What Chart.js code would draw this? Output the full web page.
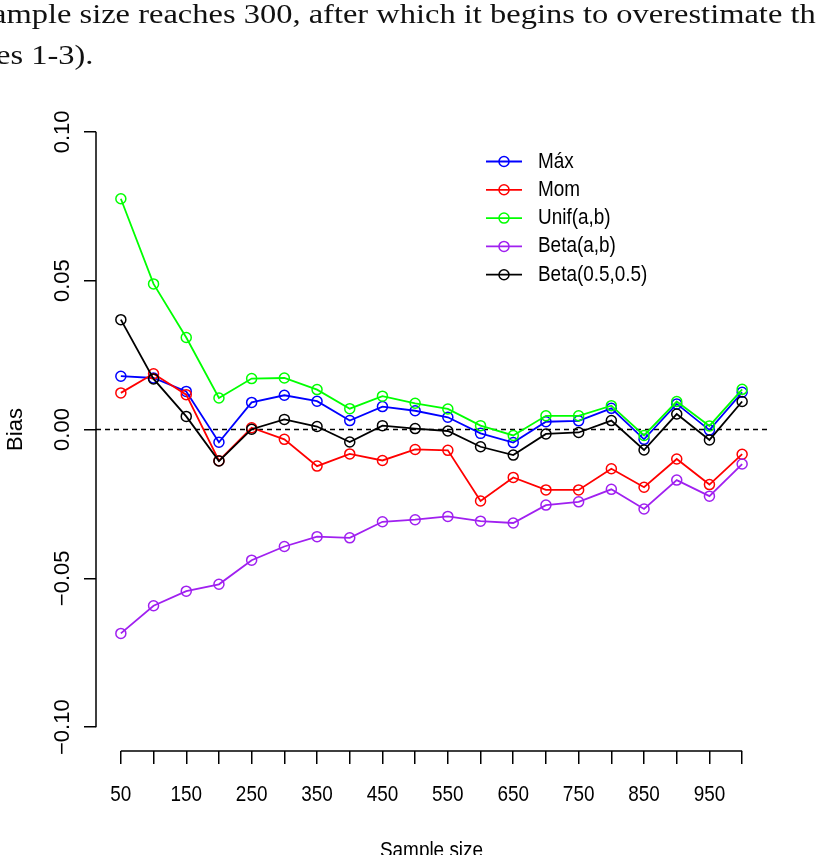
<!DOCTYPE html>
<html>
<head>
<meta charset="utf-8">
<script src="https://cdn.jsdelivr.net/npm/chart.js@4.4.1/dist/chart.umd.min.js"></script>
<style>
html,body{margin:0;padding:0;background:#fff;}
#wrap{position:relative;width:816px;height:855px;overflow:hidden;}
#c{position:absolute;left:0;top:0;}
.paper{position:absolute;white-space:nowrap;font-family:'Liberation Serif','DejaVu Serif',serif;font-size:28px;line-height:28px;color:#111;transform-origin:0 0;}
</style>
</head>
<body>
<div id="wrap">
<canvas id="c" width="816" height="855"></canvas>
<div class="paper" id="p1"></div>
<div class="paper" id="p2"></div>
</div>
<script>
// ---- data ----
const sampleSizes = [50,100,150,200,250,300,350,400,450,500,550,600,650,700,750,800,850,900,950,1000];
const seriesLabels = ['Máx','Mom','Unif(a,b)','Beta(a,b)','Beta(0.5,0.5)'];
const seriesColors = ['#0000FF','#FF0000','#00FF00','#A020F0','#000000'];
const maxBias   = [0.0179,0.0173,0.0128,-0.0043,0.0091,0.0115,0.0095,0.0030,0.0077,0.0063,0.0041,-0.0013,-0.0044,0.0026,0.0029,0.0071,-0.0033,0.0086,-0.0002,0.0125];
const momBias   = [0.0123,0.0187,0.0117,-0.0105,0.0006,-0.0033,-0.0123,-0.0082,-0.0104,-0.0067,-0.0070,-0.0240,-0.0161,-0.0203,-0.0203,-0.0132,-0.0194,-0.0099,-0.0185,-0.0083];
const unifBias  = [0.0775,0.0489,0.0309,0.0106,0.0171,0.0173,0.0134,0.0070,0.0112,0.0088,0.0069,0.0013,-0.0020,0.0046,0.0046,0.0080,-0.0020,0.0094,0.0012,0.0135];
const betaAbBias   = [-0.0685,-0.0592,-0.0543,-0.0520,-0.0439,-0.0393,-0.0360,-0.0364,-0.0310,-0.0303,-0.0292,-0.0308,-0.0314,-0.0254,-0.0243,-0.0201,-0.0267,-0.0170,-0.0224,-0.0116];
const betaHalfBias = [0.0369,0.0170,0.0044,-0.0106,0.0001,0.0034,0.0010,-0.0042,0.0013,0.0003,-0.0005,-0.0058,-0.0086,-0.0015,-0.0010,0.0030,-0.0069,0.0052,-0.0035,0.0094];
const xTickValues = sampleSizes;
const xLabelValues = [50,150,250,350,450,550,650,750,850,950];
const yTickValues = [-0.10,-0.05,0,0.05,0.10];
const yTickLabels = ['\u22120.10','\u22120.05','0.00','0.05','0.10'];
const refLine = 0;
const xTitle = 'Sample size';
const yTitle = 'Bias';
const paperLines = ['ample size reaches 300, after which it begins to overestimate th', 'es 1-3).'];

// ---- paper text above the figure ----
(function(){
  const mc = document.createElement('canvas').getContext('2d');
  mc.font = "28px 'Liberation Serif'";
  const span = mc.measureText('mple size reaches 300, after which it begins to overestimate ').width;
  const s = 784 / span;
  const p1 = document.getElementById('p1');
  p1.textContent = paperLines[0];
  p1.style.left = (6 - mc.measureText('a').width * s) + 'px';
  p1.style.top = '0px';
  p1.style.transform = 'scaleX(' + s + ')';
  const p2 = document.getElementById('p2');
  p2.textContent = paperLines[1];
  p2.style.left = (10 - mc.measureText('e').width * s) + 'px';
  p2.style.top = '41px';
  p2.style.transform = 'scaleX(' + s + ')';
})();

const seriesValues = [maxBias, momBias, unifBias, betaAbBias, betaHalfBias];
const regular = "'Liberation Sans',Arial,sans-serif";
const condense = 0.86;

const datasets = seriesValues.map((vals, i) => ({
  label: seriesLabels[i],
  data: sampleSizes.map((x, j) => ({x: x, y: vals[j]})),
  borderColor: seriesColors[i],
  pointBorderColor: seriesColors[i],
  pointBackgroundColor: 'rgba(0,0,0,0)',
  borderWidth: 1.8,
  pointRadius: 5,
  pointBorderWidth: 1.5,
  pointStyle: 'circle',
  tension: 0,
  fill: false,
  clip: false,
  order: seriesValues.length - i
}));

const xPad = 0.04 * (sampleSizes[sampleSizes.length-1] - sampleSizes[0]);
const yPad = 0.04 * (yTickValues[yTickValues.length-1] - yTickValues[0]);

function condensedText(ctx, text, cx, cy, align) {
  ctx.save();
  ctx.translate(cx, cy);
  ctx.scale(condense, 1);
  ctx.textAlign = align;
  ctx.fillText(text, 0, 0);
  ctx.restore();
}

const rBase = {
  id: 'rBase',
  beforeDatasetsDraw(chart) {
    const {ctx, chartArea: a, scales: {y}} = chart;
    const py = y.getPixelForValue(refLine);
    ctx.save();
    ctx.setLineDash([5, 4]);
    ctx.lineWidth = 1.5;
    ctx.strokeStyle = '#000';
    ctx.beginPath(); ctx.moveTo(a.left, py); ctx.lineTo(a.right, py); ctx.stroke();
    ctx.restore();
  },
  afterDraw(chart) {
    const {ctx, chartArea: a, scales: {x, y}} = chart;
    ctx.save();
    ctx.strokeStyle = '#000';
    ctx.lineWidth = 1.5;
    ctx.beginPath();
    ctx.moveTo(a.left, y.getPixelForValue(yTickValues[0]));
    ctx.lineTo(a.left, y.getPixelForValue(yTickValues[yTickValues.length-1]));
    ctx.moveTo(x.getPixelForValue(xTickValues[0]), a.bottom);
    ctx.lineTo(x.getPixelForValue(xTickValues[xTickValues.length-1]), a.bottom);
    ctx.stroke();

    ctx.font = "22px " + regular;
    ctx.textBaseline = 'middle';
    ctx.fillStyle = '#000';
    // x tick labels (horizontally condensed like the original)
    xLabelValues.forEach(v => condensedText(ctx, String(v), x.getPixelForValue(v), a.bottom + 44, 'center'));
    // x title
    condensedText(ctx, xTitle, (x.left + x.right) / 2, a.bottom + 100, 'center');

    // legend
    const lx = a.left + 390, ly0 = 161.5, dy = 28.3;
    seriesLabels.forEach((lab, i) => {
      const yy = ly0 + i * dy;
      ctx.strokeStyle = seriesColors[i];
      ctx.lineWidth = 1.8;
      ctx.beginPath(); ctx.moveTo(lx, yy); ctx.lineTo(lx + 36, yy); ctx.stroke();
      ctx.lineWidth = 1.5;
      ctx.beginPath(); ctx.arc(lx + 18, yy, 5, 0, Math.PI * 2); ctx.stroke();
      ctx.fillStyle = '#000';
      condensedText(ctx, lab, lx + 52, yy, 'left');
    });
    ctx.restore();
  }
};

new Chart(document.getElementById('c'), {
  type: 'line',
  data: {datasets: datasets},
  options: {
    responsive: false,
    animation: false,
    layout: {padding: {left: 0, top: 108, right: 49, bottom: 0}},
    plugins: {legend: {display: false}, tooltip: {enabled: false}},
    scales: {
      x: {
        type: 'linear',
        min: sampleSizes[0] - xPad,
        max: sampleSizes[sampleSizes.length-1] + xPad,
        afterBuildTicks: s => { s.ticks = xTickValues.map(v => ({value: v})); },
        afterFit: s => { s.height = 104; },
        border: {display: false},
        grid: {display: true, drawOnChartArea: false, drawTicks: true, tickLength: 13, color: '#000', lineWidth: 1.5},
        ticks: {display: false, autoSkip: false, maxRotation: 0, minRotation: 0},
        title: {display: false}
      },
      y: {
        type: 'linear',
        min: yTickValues[0] - yPad,
        max: yTickValues[yTickValues.length-1] + yPad,
        afterBuildTicks: s => { s.ticks = yTickValues.map(v => ({value: v})); },
        afterFit: s => { s.width = 96; },
        border: {display: false},
        grid: {display: true, drawOnChartArea: false, drawTicks: true, tickLength: 12, color: '#000', lineWidth: 1.5},
        ticks: {autoSkip: false, minRotation: 90, maxRotation: 90, crossAlign: 'center', padding: -7, color: '#000',
                font: {family: regular, size: 22},
                callback: (v, i) => yTickLabels[i]},
        title: {display: true, text: yTitle, color: '#000', font: {family: regular, size: 22, lineHeight: 1.2},
                padding: {top: 3, bottom: 0}}
      }
    }
  },
  plugins: [rBase]
});
</script>
</body>
</html>
